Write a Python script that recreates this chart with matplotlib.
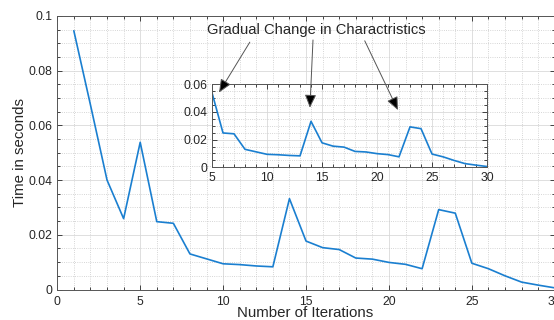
import matplotlib
matplotlib.use("Agg")
import matplotlib.pyplot as plt
from matplotlib.ticker import MultipleLocator

# datos
iteraciones = list(range(1, 31))
tiempos = [0.0945, 0.0675, 0.0400, 0.0259, 0.0538, 0.0248, 0.0242, 0.0130,
           0.0112, 0.0094, 0.0091, 0.0086, 0.0083, 0.0332, 0.0177, 0.0153,
           0.0146, 0.0115, 0.0111, 0.0099, 0.0092, 0.0076, 0.0292, 0.0279,
           0.0096, 0.0076, 0.0050, 0.0027, 0.0016, 0.0006]

xticks_main = [0, 5, 10, 15, 20, 25, 30]
yticks_main = [0, 0.02, 0.04, 0.06, 0.08, 0.1]
ylabels_main = ['0', '0.02', '0.04', '0.06', '0.08', '0.1']
xticks_ins = [5, 10, 15, 20, 25, 30]
yticks_ins = [0, 0.02, 0.04, 0.06]
ylabels_ins = ['0', '0.02', '0.04', '0.06']

texto = "Gradual Change in Charactristics"
puntos_flecha = [(5.64, 0.054), (13.9, 0.043), (21.9, 0.0413)]
colas_flecha = [(0.387, 0.904), (0.514, 0.912), (0.618, 0.909)]

azul = '#1a7fd0'
gris = '#262626'
plt.rcParams['font.family'] = ['Liberation Sans', 'DejaVu Sans']


def estilo(ax, fs):
    ax.tick_params(which='both', direction='in', top=True, right=True,
                   colors=gris, labelsize=fs, width=0.6)
    ax.tick_params(which='major', length=3.5)
    ax.tick_params(which='minor', length=2)
    for s in ax.spines.values():
        s.set_color('#555555')
        s.set_linewidth(0.7)
    ax.grid(which='major', color='#d9d9d9', linewidth=0.6)
    ax.grid(which='minor', color='#c8c8c8', linestyle=':', linewidth=0.6)
    ax.set_axisbelow(True)


fig = plt.figure(figsize=(5.54, 3.2), dpi=100)
ax = fig.add_axes([0.1034, 0.0953, 0.898, 0.855])
ax.plot(iteraciones, tiempos, color=azul, linewidth=1.2)
ax.set_xlim(0, 30)
ax.set_ylim(0, 0.1)
ax.set_xticks(xticks_main)
ax.set_yticks(yticks_main)
ax.set_yticklabels(ylabels_main)
ax.xaxis.set_minor_locator(MultipleLocator(1))
ax.yaxis.set_minor_locator(MultipleLocator(0.005))
estilo(ax, 8.7)
ax.tick_params(axis='x', pad=5)
ax.set_xlabel("Number of Iterations", fontsize=10.8, color=gris)
ax.set_ylabel("Time in seconds", fontsize=10.8, color=gris)
ax.xaxis.set_label_coords(0.499, -0.086)
ax.yaxis.set_label_coords(-0.074, 0.5)
ax.xaxis.label.set_va('center')
ax.yaxis.label.set_va('center')

ins = fig.add_axes([0.3827, 0.477, 0.4964, 0.260])
ins.plot(iteraciones, tiempos, color=azul, linewidth=1.2)
ins.set_xlim(5, 30)
ins.set_ylim(0, 0.06)
ins.set_xticks(xticks_ins)
ins.set_yticks(yticks_ins)
ins.set_yticklabels(ylabels_ins)
ins.xaxis.set_minor_locator(MultipleLocator(1))
ins.yaxis.set_minor_locator(MultipleLocator(0.005))
estilo(ins, 8.7)

ax.text(0.52, 0.949, texto, transform=ax.transAxes, ha='center', va='center',
        fontsize=10.6, color=gris)
# flechas dibujadas desde el inset para que queden encima
for (px, py), (tx, ty) in zip(puntos_flecha, colas_flecha):
    ins.annotate('', xy=(px, py), xycoords='data',
                 xytext=(tx, ty), textcoords=ax.transAxes,
                 arrowprops=dict(arrowstyle='-|>,head_length=0.8,head_width=0.35',
                                 fc='black', ec='#555555', lw=0.7,
                                 shrinkA=0, shrinkB=0),
                 annotation_clip=False)

fig.savefig("out.png", dpi=100)
